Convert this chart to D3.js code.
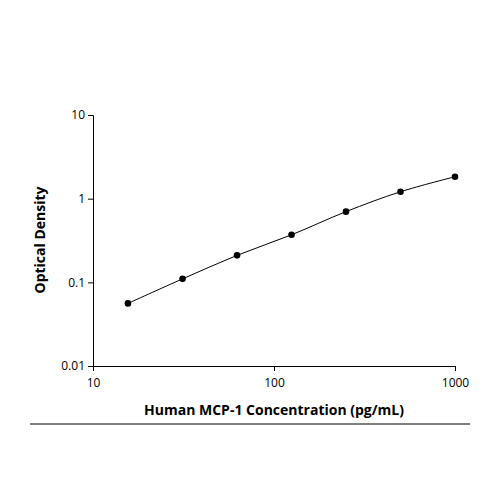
<!DOCTYPE html>
<html><head><meta charset="utf-8">
<script src="https://cdn.jsdelivr.net/npm/d3@7"></script>
<style>body{margin:0;background:#fff}text{font-family:"Open Sans",sans-serif}</style>
</head><body><svg id="c" width="500" height="500"></svg>
<script>
const concentrations=[15.6,31.25,62.5,125,250,500,1000];
const odValues=[0.056,0.11,0.21,0.37,0.70,1.21,1.83];
const xTicks=[10,100,1000];
const yTicks=[0.01,0.1,1,10];
const svg=d3.select("#c");
const x=d3.scaleLog().domain([10,1000]).range([93,455]);
const y=d3.scaleLog().domain([0.01,10]).range([366,115]);
const fmt=d=>String(d);
svg.append("g").attr("transform","translate(0,366)")
 .call(d3.axisBottom(x).tickValues(xTicks).tickFormat(fmt).tickSize(5))
 .call(g=>{g.selectAll("text").attr("font-size",12).attr("dy","1.1em");});
svg.append("g").attr("transform","translate(93,0)")
 .call(d3.axisLeft(y).tickValues(yTicks).tickFormat(fmt).tickSize(5))
 .call(g=>{g.selectAll("text").attr("font-size",12);});
svg.selectAll(".domain,.tick line").attr("stroke","#000");
const pts=concentrations.map((c,i)=>[c,odValues[i]]);
svg.append("path").attr("fill","none").attr("stroke","#000").attr("stroke-width",1)
 .attr("d",d3.line().x(d=>x(d[0])).y(d=>y(d[1])).curve(d3.curveCatmullRom)(pts));
svg.selectAll("circle").data(pts).join("circle")
 .attr("cx",d=>x(d[0])).attr("cy",d=>y(d[1])).attr("r",3.3).attr("fill","#000");
svg.append("text").attr("x",274).attr("y",415).attr("text-anchor","middle")
 .attr("font-size",14).attr("font-weight","bold").text("Human MCP-1 Concentration (pg/mL)");
svg.append("text").attr("transform","translate(45,240) rotate(-90)").attr("text-anchor","middle")
 .attr("font-size",14).attr("font-weight","bold").text("Optical Density");
svg.append("line").attr("x1",30).attr("x2",470).attr("y1",424).attr("y2",424).attr("stroke","#000");
</script></body></html>
